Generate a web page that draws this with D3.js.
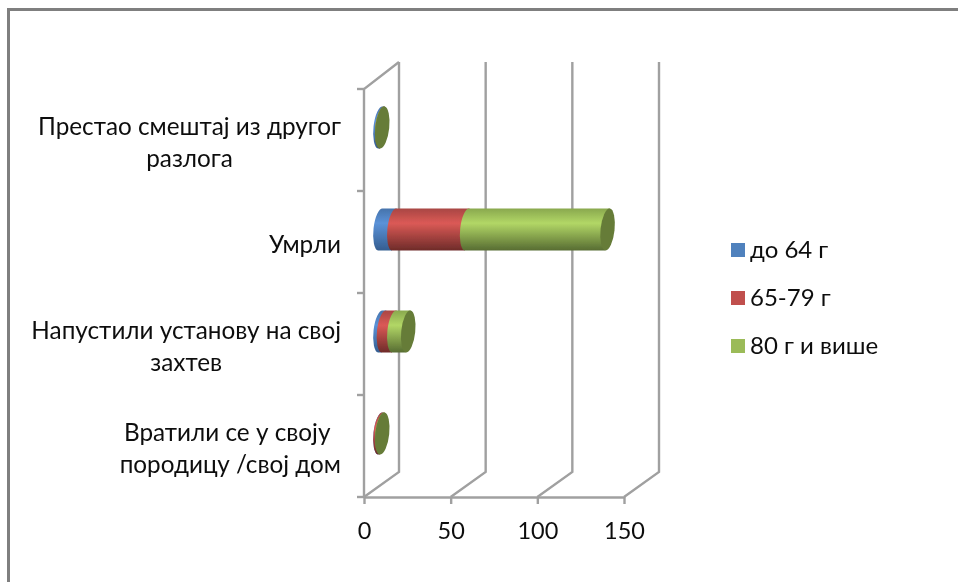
<!DOCTYPE html>
<html>
<head>
<meta charset="utf-8" />
<script src="https://d3js.org/d3.v7.min.js"></script>
<style>
  html, body { margin: 0; background: #fff; }
  svg { display: block; }
  text { font-family: "Lato", "Noto Sans", sans-serif; fill: #111; font-size: 24.3px; }
</style>
</head>
<body>
<div id="chart"></div>
<script>
var categories = ["Престао смештај из другог|разлога", "Умрли", "Напустили установу на свој|захтев", "Вратили се у своју |породицу /свој дом"];
var seriesNames = ["до 64 г", "65-79 г", "80 г и више"];
var upTo64 = [1, 8, 2, 0];
var from65to79 = [0, 42, 6, 1];
var over80 = [0, 81, 8, 0];
var xTicks = [0, 50, 100, 150];
var colors = ["#4f81bd", "#c0504d", "#9bbb59"];
var gradStops = [
  ["#4673ab", "#5b92d8", "#345d90"],
  ["#a84643", "#db5a56", "#6e2b29"],
  ["#89a84e", "#b2d766", "#576c32"]
];

var width = 958, height = 582;
var depthX = 35, depthY = -25;
var wallTop = 62;
var gridColor = "#a0a0a0";

var svg = d3.select("#chart").append("svg").attr("width", width).attr("height", height);
var defs = svg.append("defs");
gradStops.forEach(function(g, i) {
  var lg = defs.append("linearGradient").attr("id", "grad" + i)
    .attr("x1", 0).attr("y1", 0).attr("x2", 0).attr("y2", 1);
  lg.append("stop").attr("offset", "0%").attr("stop-color", g[0]);
  lg.append("stop").attr("offset", "35%").attr("stop-color", g[1]);
  lg.append("stop").attr("offset", "100%").attr("stop-color", g[2]);
});
defs.append("filter").attr("id", "soft").append("feGaussianBlur").attr("stdDeviation", 0.45);
defs.append("filter").attr("id", "softText").append("feGaussianBlur").attr("stdDeviation", 0.3);

// outer frame of the pasted chart
svg.append("path").attr("d", "M8.5,582V9.5H958").attr("fill", "none")
  .attr("stroke", "#7f7f7f").attr("stroke-width", 3);

var x = d3.scaleLinear().domain([0, 150]).range([364, 624]);
var y = d3.scaleBand().domain(categories).range([89, 497]);

var rows = categories.map(function(c, i) {
  return { cat: c, a: upTo64[i], b: from65to79[i], c: over80[i] };
});
var stacked = d3.stack().keys(["a", "b", "c"])(rows);

var plot = svg.append("g").attr("filter", "url(#soft)");
var grid = plot.append("g").attr("fill", "none").attr("stroke", gridColor).attr("stroke-width", 2.4);

// back wall lines and floor diagonals
xTicks.forEach(function(t) {
  grid.append("path").attr("d", d3.line()([
    [x(t), 497], [x(t) + depthX, 497 + depthY], [x(t) + depthX, wallTop]
  ]));
});
// left wall
grid.append("path").attr("d", d3.line()([[x(0) + depthX, wallTop], [x(0), 89], [x(0), 497]]));
categories.concat([null]).forEach(function(c) {
  var yy = c === null ? 497 : y(c);
  grid.append("line").attr("x1", x(0) - 7).attr("x2", x(0)).attr("y1", yy).attr("y2", yy);
});

// x axis
var xAxis = plot.append("g").attr("transform", "translate(0,497)")
  .call(d3.axisBottom(x).tickValues(xTicks).tickSize(7).tickPadding(18).tickSizeOuter(0));
xAxis.select(".domain").attr("stroke", gridColor).attr("stroke-width", 2.4);
xAxis.selectAll(".tick line").attr("stroke", gridColor).attr("stroke-width", 2.4);
xAxis.selectAll("text").style("font-size", "23.5px").style("font-family", "Lato, 'Noto Sans', sans-serif");

// cylinders
var midX = 16.5, midY = depthY / 2;
var rx = 7, ry = 21, tilt = 6, lean = 2.4;
function segPath(x0, x1, cy) {
  var top = cy - ry, bot = cy + ry;
  return "M" + (x0 + lean) + "," + top + "L" + (x1 + lean) + "," + top +
    "L" + (x1 - lean) + "," + bot + "L" + (x0 - lean) + "," + bot +
    "A" + rx + "," + ry + " " + tilt + " 0 1 " + (x0 + lean) + "," + top + "Z";
}
stacked.forEach(function(s, i) {
  plot.append("g").selectAll("path").data(s).enter().append("path")
    .attr("fill", "url(#grad" + i + ")")
    .attr("d", function(d) {
      return segPath(x(d[0]) + midX, x(d[1]) + midX, y(d.data.cat) + y.bandwidth() / 2 + midY);
    });
});
plot.append("g").selectAll("ellipse").data(stacked[2]).enter().append("ellipse")
  .attr("rx", rx).attr("ry", ry).attr("fill", "#667c39")
  .attr("transform", function(d) {
    return "translate(" + (x(d[1]) + midX) + "," + (y(d.data.cat) + y.bandwidth() / 2 + midY) + ") rotate(" + tilt + ")";
  });

// category labels, each block centred on itself and right aligned to the axis
var labels = svg.append("g").attr("filter", "url(#softText)");
categories.forEach(function(c) {
  var lines = c.split("|");
  var cy = y(c) + y.bandwidth() / 2 + 2;
  var g = labels.append("g");
  var lineH = 32;
  var txt = g.selectAll("text").data(lines).enter().append("text")
    .attr("text-anchor", "middle")
    .attr("xml:space", "preserve")
    .style("white-space", "pre")
    .attr("dy", "0.35em")
    .attr("y", function(d, i) { return cy + (i - (lines.length - 1) / 2) * lineH; })
    .text(function(d) { return d; });
  var w = d3.max(txt.nodes(), function(n) { return n.getComputedTextLength(); });
  txt.attr("x", 341 - w / 2);
});

// legend
var legend = svg.append("g").attr("filter", "url(#softText)").selectAll("g").data(seriesNames).enter().append("g")
  .attr("transform", function(d, i) { return "translate(731," + (250 + i * 48) + ")"; });
legend.append("rect").attr("x", 0).attr("y", -7).attr("width", 14).attr("height", 14)
  .attr("fill", function(d, i) { return colors[i]; });
legend.append("text").attr("x", 19).attr("dy", "0.35em").style("font-size", "24px").text(function(d) { return d; });
</script>
</body>
</html>
